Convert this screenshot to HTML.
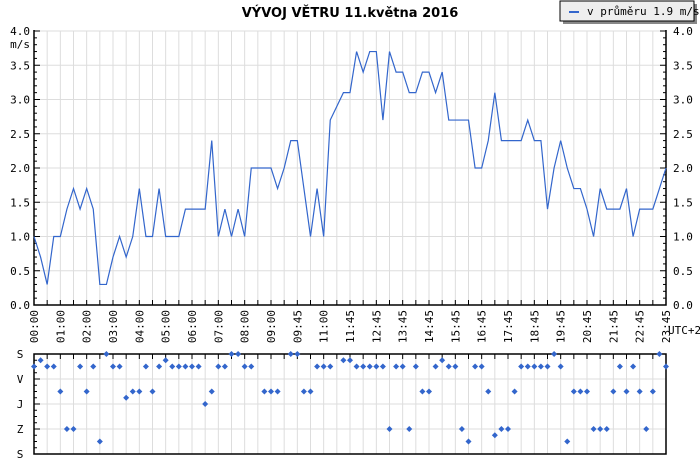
<!DOCTYPE html>
<html><head><meta charset="utf-8"><style>
html,body{margin:0;padding:0;background:#fff;width:700px;height:460px;overflow:hidden}
svg text{font-family:"DejaVu Sans Mono","Liberation Mono",monospace;font-size:11px;fill:#000}
</style></head><body>
<svg id="c" width="700" height="460">
<text x="350" y="17" text-anchor="middle" style="font-family:'DejaVu Sans','Liberation Sans',sans-serif;font-weight:bold;font-size:13px">VÝVOJ VĚTRU  11.května 2016</text>
<g>
<rect x="563" y="4" width="134" height="20" fill="#888"/>
<rect x="560" y="1" width="134" height="20" fill="#eee" stroke="#000"/>
<line x1="569" y1="12" x2="579" y2="12" stroke="#3366cc" stroke-width="2"/>
<text x="587" y="15">v průměru 1.9 m/s</text>
</g>
<g id="g"></g>
</svg>
<script>
const timeLabels=["00:00","01:00","02:00","03:00","04:00","05:00","06:00","07:00","08:00","09:00","09:45","11:00","11:45","12:45","13:45","14:45","15:45","16:45","17:45","18:45","19:45","20:45","21:45","22:45","23:45"];
const speeds=[1.0,0.7,0.3,1.0,1.0,1.4,1.7,1.4,1.7,1.4,0.3,0.3,0.7,1.0,0.7,1.0,1.7,1.0,1.0,1.7,1.0,1.0,1.0,1.4,1.4,1.4,1.4,2.4,1.0,1.4,1.0,1.4,1.0,2.0,2.0,2.0,2.0,1.7,2.0,2.4,2.4,1.7,1.0,1.7,1.0,2.7,2.9,3.1,3.1,3.7,3.4,3.7,3.7,2.7,3.7,3.4,3.4,3.1,3.1,3.4,3.4,3.1,3.4,2.7,2.7,2.7,2.7,2.0,2.0,2.4,3.1,2.4,2.4,2.4,2.4,2.7,2.4,2.4,1.4,2.0,2.4,2.0,1.7,1.7,1.4,1.0,1.7,1.4,1.4,1.4,1.7,1.0,1.4,1.4,1.4,1.7,2.0];
const directions=[45,22.5,45,45,135,270,270,45,135,45,315,0,45,45,157.5,135,135,45,135,45,22.5,45,45,45,45,45,180,135,45,45,0,0,45,45,null,135,135,135,null,0,0,135,135,45,45,45,null,22.5,22.5,45,45,45,45,45,270,45,45,270,45,135,135,45,22.5,45,45,270,315,45,45,135,292.5,270,270,135,45,45,45,45,45,0,45,315,135,135,135,270,270,270,135,45,135,45,135,270,135,0,45];
const speedTicks=["0.0","0.5","1.0","1.5","2.0","2.5","3.0","3.5","4.0"];
const dirTicks=["S","V","J","Z","S"];
const g=document.getElementById('g');const NS="http://www.w3.org/2000/svg";
function mk(t,a,p){const e=document.createElementNS(NS,t);for(const k in a)e.setAttribute(k,a[k]);(p||g).appendChild(e);return e;}
const X0=34,X1=666,Y0=305,Y1=31,D0=354,D1=454;
const N=speeds.length;
const xs=i=>X0+(X1-X0)*i/(N-1);
const ys=v=>Y0-(Y0-Y1)*v/4;
const yd=d=>D0+(D1-D0)*d/360;
// grids
for(let i=0;i<N;i+=2){const x=xs(i);
 let l=mk('line',{x1:x,y1:Y1,x2:x,y2:Y0,stroke:'#ddd'});
 
 
 mk('line',{x1:x,y1:D0,x2:x,y2:D1,stroke:'#ddd'});
 mk('line',{x1:x,y1:Y0,x2:x,y2:Y0-5,stroke:'#000'});
 mk('line',{x1:x,y1:D0,x2:x,y2:D0+5,stroke:'#000'});}
for(let k=0;k<speedTicks.length;k++){const v=k*0.5,y=ys(v);
 mk('line',{x1:X0,y1:y,x2:X1,y2:y,stroke:'#ddd'});
 let t=mk('text',{x:X0-4,y:y+4,'text-anchor':'end'});t.textContent=speedTicks[k];
 
 
 let t2=mk('text',{x:X1+7,y:y+4});t2.textContent=speedTicks[k];
 
 }
for(let v=0;v<=40;v++){const y=ys(v/10),w=v%5==0?6:3;
 mk('line',{x1:X0,y1:y,x2:X0+w,y2:y,stroke:'#000'});mk('line',{x1:X1,y1:y,x2:X1-w,y2:y,stroke:'#000'});}
let u=mk('text',{x:X0-4,y:48,'text-anchor':'end'});u.textContent="m/s";


for(let k=0;k<dirTicks.length;k++){const y=yd(k*90);
 if(k>0&&k<4)mk('line',{x1:X0,y1:y,x2:X1,y2:y,stroke:'#ddd'});
 let t=mk('text',{x:X0-14,y:y+4,'text-anchor':'middle'});t.textContent=dirTicks[k];
 
 }
for(let k=0;k<=16;k++){const y=yd(k*22.5),w=k%4==0?6:3;mk('line',{x1:X0,y1:y,x2:X0+w,y2:y,stroke:'#000'});}
// axes frames
mk('path',{d:`M${X0} ${Y1-1}V${Y0}H${X1}V${Y1-1}`,fill:'none',stroke:'#000','stroke-width':1.5});
mk('rect',{x:X0,y:D0,width:X1-X0,height:D1-D0,fill:'none',stroke:'#000','stroke-width':1.5});
// x labels
for(let k=0;k<timeLabels.length;k++){const x=xs(k*4);
 let t=mk('text',{x:0,y:0,transform:`translate(${x+4},${Y0+5}) rotate(-90)`,'text-anchor':'end'});t.textContent=timeLabels[k];
 
 }
let utc=mk('text',{x:X1+2,y:Y0+29});utc.textContent="UTC+2";


// speed line
let d='';speeds.forEach((v,i)=>{d+=(i?'L':'M')+xs(i).toFixed(2)+' '+ys(v).toFixed(2);});
let p=mk('path',{d:d,fill:'none',stroke:'#3366cc','stroke-width':1.2});


// direction points
directions.forEach((v,i)=>{if(v===null)return;const x=xs(i),y=yd(v);
 let m=mk('path',{d:`M${x} ${y-3}L${x+3} ${y}L${x} ${y+3}L${x-3} ${y}Z`,fill:'#3366cc'});
 
 });
</script>
</body></html>
